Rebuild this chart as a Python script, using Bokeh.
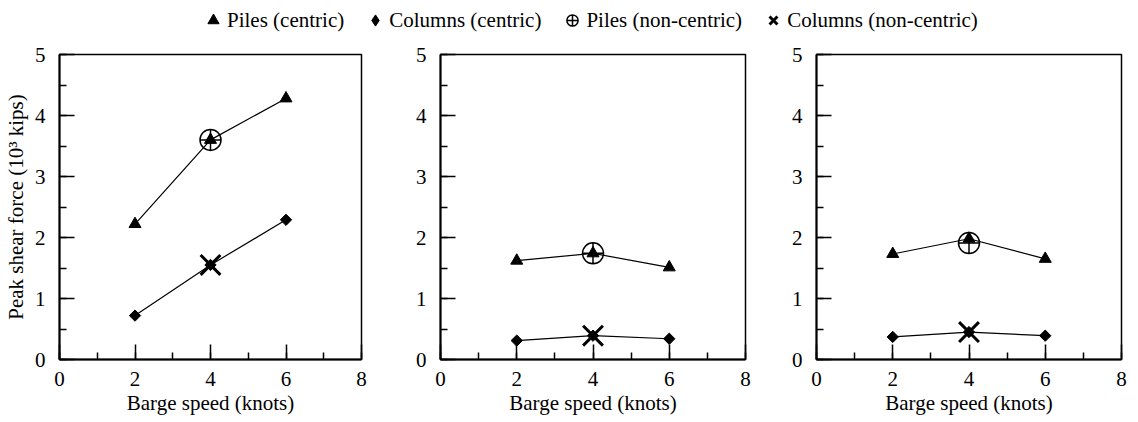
import math
from bokeh.plotting import figure
from bokeh.layouts import column, row
from bokeh.models import Range1d, SingleIntervalTicker, Legend, LegendItem
from bokeh.embed import file_html
from bokeh.resources import INLINE

# ---- data ----
speeds = [2, 4, 6]
piles_centric = [[2.22, 3.60, 4.28], [1.62, 1.74, 1.51], [1.73, 1.98, 1.65]]
columns_centric = [[0.72, 1.55, 2.29], [0.31, 0.39, 0.34], [0.37, 0.45, 0.39]]
nc_speed = [4]
piles_noncentric = [[3.60], [1.74], [1.91]]
columns_noncentric = [[1.55], [0.39], [0.45]]

legend_labels = ["Piles (centric)", "Columns (centric)",
                 "Piles (non-centric)", "Columns (non-centric)"]
x_label = "Barge speed (knots)"
y_label = "Peak shear force (10\u00b3 kips)"

FONT = "Liberation Serif"
FS = "21px"

borders = [(53, 302, 10), (69, 305, 10), (61, 305, 7)]

panels = []
for i in range(3):
    bl, fw, br = borders[i]
    p = figure(frame_width=fw, frame_height=305, min_border_left=bl,
               min_border_right=br, min_border_top=20, min_border_bottom=62,
               x_range=Range1d(0, 8), y_range=Range1d(0, 5),
               output_backend="svg", toolbar_location=None)
    p.xgrid.visible = False
    p.ygrid.visible = False
    p.outline_line_color = "black"
    p.outline_line_width = 1.5
    p.xaxis.ticker = SingleIntervalTicker(interval=2, num_minor_ticks=2)
    p.yaxis.ticker = SingleIntervalTicker(interval=1, num_minor_ticks=2)
    for ax in (p.xaxis[0], p.yaxis[0]):
        ax.major_tick_in = 15
        ax.major_tick_out = 0
        ax.minor_tick_in = 7
        ax.minor_tick_out = 0
        ax.major_tick_line_width = 1.5
        ax.minor_tick_line_width = 1.5
        ax.major_tick_line_color = "black"
        ax.minor_tick_line_color = "black"
        ax.axis_line_width = 2
        ax.axis_line_color = "black"
        ax.major_label_text_font = FONT
        ax.major_label_text_font_size = FS
        ax.major_label_text_color = "black"
        ax.axis_label_text_font = FONT
        ax.axis_label_text_font_size = FS
        ax.axis_label_text_font_style = "normal"
        ax.axis_label_text_color = "black"
    p.xaxis.major_label_standoff = 12
    p.xaxis.axis_label_standoff = 2
    p.yaxis.major_label_standoff = 14
    p.yaxis.axis_label_standoff = 4
    p.xaxis.axis_label = x_label
    if i == 0:
        p.yaxis.axis_label = y_label

    p.line(speeds, piles_centric[i], line_color="black", line_width=1.2)
    p.line(speeds, columns_centric[i], line_color="black", line_width=1.2)
    p.scatter(speeds, piles_centric[i], marker="triangle", size=12,
              color="black")
    p.scatter(speeds, columns_centric[i], marker="square", size=8,
              angle=math.pi / 4, color="black")
    p.scatter(nc_speed, piles_noncentric[i], marker="circle_cross", size=21,
              line_color="black", line_width=1.5, fill_color=None)
    p.scatter(nc_speed, columns_noncentric[i], marker="x", size=28,
              line_color="black", line_width=3)
    panels.append(p)

# ---- legend strip (its data lie outside its visible range) ----
lg = figure(width=1122, height=34, min_border=0, x_range=Range1d(100, 101),
            y_range=Range1d(100, 101), x_axis_location=None,
            y_axis_location=None, output_backend="svg", toolbar_location=None)
lg.xgrid.visible = False
lg.ygrid.visible = False
lg.outline_line_color = None
r1 = lg.scatter(speeds, piles_centric[0], marker="triangle", color="black")
r2 = lg.scatter(speeds, columns_centric[0], marker="diamond", color="black")
r3 = lg.scatter(nc_speed, piles_noncentric[0], marker="circle_cross",
                line_color="black", line_width=1.5, fill_color=None)
r4 = lg.scatter(nc_speed, columns_noncentric[0], marker="x",
                line_color="black", line_width=3)
legend = Legend(items=[LegendItem(label=legend_labels[k], renderers=[r])
                       for k, r in enumerate([r1, r2, r3, r4])],
                orientation="horizontal", location=(199, 0),
                glyph_width=28, glyph_height=28, label_standoff=0,
                spacing=17, padding=0, margin=0, border_line_color=None,
                background_fill_alpha=0, label_text_font=FONT,
                label_text_font_size=FS, label_text_color="black")
lg.add_layout(legend)

layout = column(lg, row(*panels, spacing=0), spacing=0)
open("out.html", "w").write(file_html(layout, INLINE))
